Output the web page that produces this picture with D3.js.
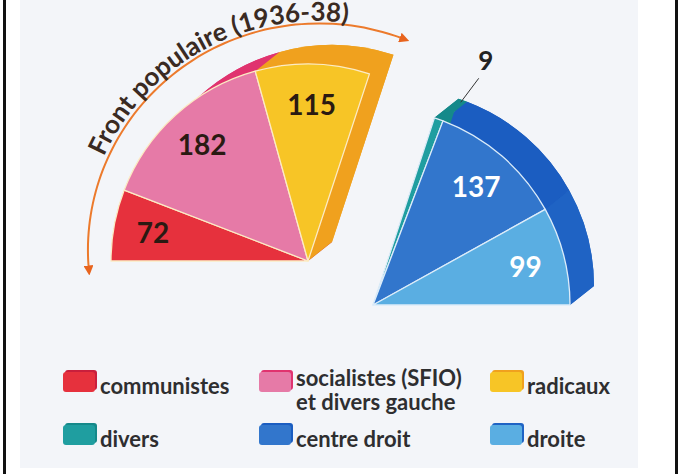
<!DOCTYPE html>
<html>
<head>
<meta charset="utf-8">
<script src="https://cdn.jsdelivr.net/npm/d3@7"></script>
<style>
  body { margin: 0; background: #fff; }
  svg { display: block; }
</style>
</head>
<body>
<svg width="680" height="474"></svg>
<script>
// sièges à la Chambre, élections de 1936
var parties = ["communistes", "socialistes (SFIO)|et divers gauche", "radicaux", "divers", "centre droit", "droite"];
var seats = [72, 182, 115, 9, 137, 99];
var bloc = [0, 0, 0, 1, 1, 1];
var title = "Front populaire (1936-38)";

var fills = ["#e6313d", "#e67aa7", "#f7c526", "#1f9ea0", "#3276cc", "#5aaee2"];
var shades = ["#c91f3c", "#e0336f", "#f0a11e", "#15898a", "#1b5dc1", "#1f63c4"];
var labelColors = ["#2a1a12", "#2a1a12", "#2a1a12", "#222", "#fff", "#fff"];

var svg = d3.select("svg");
var width = +svg.attr("width"), height = +svg.attr("height");

svg.append("rect").attr("x", 20).attr("y", 0).attr("width", 618).attr("height", 468).attr("fill", "#f3f5f9");
svg.append("rect").attr("x", 3).attr("y", 0).attr("width", 3).attr("height", height).attr("fill", "#111");
svg.append("rect").attr("x", 675).attr("y", 0).attr("width", 3).attr("height", height).attr("fill", "#111");

var r = 197;
var depth = [24, -19];
var centers = [[308, 261], [373, 305]];
var strokes = ["#fcebc4", "#dcecf9"];

var pie = d3.pie().sort(null).startAngle(-Math.PI / 2).endAngle(Math.PI / 2);
var slices = pie(seats);
slices.forEach(function (d, i) { d.i = i; d.bloc = bloc[i]; });

var arc = d3.arc().innerRadius(0).outerRadius(r);
var labelArc = d3.arc().innerRadius(r * 0.8).outerRadius(r * 0.8);

// band between front arc and back arc (top face of the slice)
function sweep(d) {
    var p = d3.path();
    var a0 = d.startAngle - Math.PI / 2, a1 = d.endAngle - Math.PI / 2;
    p.moveTo(r * Math.cos(a0), r * Math.sin(a0));
    p.arc(0, 0, r, a0, a1);
    p.lineTo(depth[0] + r * Math.cos(a1), depth[1] + r * Math.sin(a1));
    p.arc(depth[0], depth[1], r, a1, a0, true);
    p.closePath();
    return p.toString();
}

function edge(a) {
    var x = r * Math.cos(a - Math.PI / 2), y = r * Math.sin(a - Math.PI / 2);
    return "M0,0L" + x + "," + y + "L" + (x + depth[0]) + "," + (y + depth[1]) + "L" + depth[0] + "," + depth[1] + "Z";
}

[0, 1].forEach(function (b) {
    var data = slices.filter(function (d) { return d.bloc === b; });
    var g = svg.append("g").attr("transform", "translate(" + centers[b] + ")");

    var back = g.append("g");
    back.selectAll("path.back").data(data).enter().append("path")
        .attr("transform", "translate(" + depth + ")")
        .attr("d", arc)
        .attr("fill", function (d) { return shades[d.i]; });
    back.selectAll("path.top").data(data).enter().append("path")
        .attr("d", sweep)
        .attr("fill", function (d) { return shades[d.i]; });
    back.append("path").attr("d", edge(data[0].startAngle)).attr("fill", shades[data[0].i]);
    back.append("path").attr("d", edge(data[data.length - 1].endAngle)).attr("fill", shades[data[data.length - 1].i]);

    g.selectAll("path.front").data(data).enter().append("path")
        .attr("d", arc)
        .attr("fill", function (d) { return fills[d.i]; })
        .attr("stroke", strokes[b])
        .attr("stroke-width", 1.3)
        .attr("stroke-linejoin", "round");

    g.selectAll("text.val").data(data.filter(function (d) { return d.data >= 20; })).enter().append("text")
        .attr("transform", function (d) { return "translate(" + labelArc.centroid(d) + ")"; })
        .attr("dy", "0.4em")
        .attr("text-anchor", "middle")
        .attr("font-family", "Lato, 'Open Sans', sans-serif")
        .attr("font-weight", 700)
        .attr("font-size", 28)
        .attr("fill", function (d) { return labelColors[d.i]; })
        .text(function (d) { return d.data; });

    // small slice: label outside with a leader line
    data.filter(function (d) { return d.data < 20; }).forEach(function (d) {
        var m = (d.startAngle + d.endAngle) / 2 - Math.PI / 2;
        var x0 = depth[0] + r * Math.cos(m), y0 = depth[1] + r * Math.sin(m);
        g.append("line")
            .attr("x1", x0 - 2).attr("y1", y0 + 2)
            .attr("x2", x0 + 16).attr("y2", y0 - 22)
            .attr("stroke", "#333").attr("stroke-width", 1);
        g.append("text")
            .attr("x", x0 + 23).attr("y", y0 - 30)
            .attr("text-anchor", "middle")
            .attr("font-family", "Lato, 'Open Sans', sans-serif")
            .attr("font-weight", 700)
            .attr("font-size", 26)
            .attr("fill", labelColors[d.i])
            .text(d.data);
    });
});

// Front populaire arrow + curved title
var defs = svg.append("defs");
defs.append("marker").attr("id", "arrow")
    .attr("viewBox", "0 0 10 10").attr("refX", 7).attr("refY", 5)
    .attr("markerWidth", 5).attr("markerHeight", 5)
    .attr("orient", "auto-start-reverse")
    .append("path").attr("d", "M0,0L10,5L0,10Z").attr("fill", "#e8641e");

var spiral = d3.lineRadial()
    .angle(function (a) { return a * Math.PI / 180; })
    .radius(function (a) { return 219 + (a + 94) / 118 * 23; })
    .curve(d3.curveCardinal);

var tg = svg.append("g").attr("transform", "translate(" + centers[0] + ")");
tg.append("path")
    .attr("d", spiral(d3.range(-93, 24.1, 3)))
    .attr("fill", "none")
    .attr("stroke", "#ec7a2c")
    .attr("stroke-width", 2)
    .attr("marker-start", "url(#arrow)")
    .attr("marker-end", "url(#arrow)");

var textSpiral = d3.lineRadial()
    .angle(function (a) { return a * Math.PI / 180; })
    .radius(function (a) { return 224 + (a + 94) / 118 * 20; })
    .curve(d3.curveCardinal);
defs.append("path").attr("id", "titlePath")
    .attr("d", textSpiral(d3.range(-63, 30.1, 2)));

tg.append("text")
    .attr("font-family", "Lato, 'Open Sans', sans-serif")
    .attr("font-weight", 700)
    .attr("font-size", 26)
    .attr("fill", "#3a2a22")
    .append("textPath")
    .attr("href", "#titlePath")
    .text(title);

// legend
var legendX = [63, 259, 490], legendY = [372, 425];
parties.forEach(function (p, i) {
    var x = legendX[i % 3], y = legendY[Math.floor(i / 3)];
    var lg = svg.append("g").attr("transform", "translate(" + x + "," + y + ")");
    lg.append("rect").attr("x", 2).attr("y", -2).attr("width", 32).attr("height", 20).attr("rx", 3).attr("fill", shades[i]);
    lg.append("rect").attr("x", 0).attr("y", 0).attr("width", 32).attr("height", 20).attr("rx", 3).attr("fill", fills[i]);
    var lines = p.split("|");
    var t = lg.append("text")
        .attr("font-family", "Lato, 'Open Sans', sans-serif")
        .attr("font-weight", 700)
        .attr("font-size", 22)
        .attr("fill", "#2e2e30");
    lines.forEach(function (s, k) {
        t.append("tspan")
            .attr("x", 37)
            .attr("y", (lines.length > 1 ? 14 : 22) + k * 24)
            .text(s);
    });
});
</script>
</body>
</html>
